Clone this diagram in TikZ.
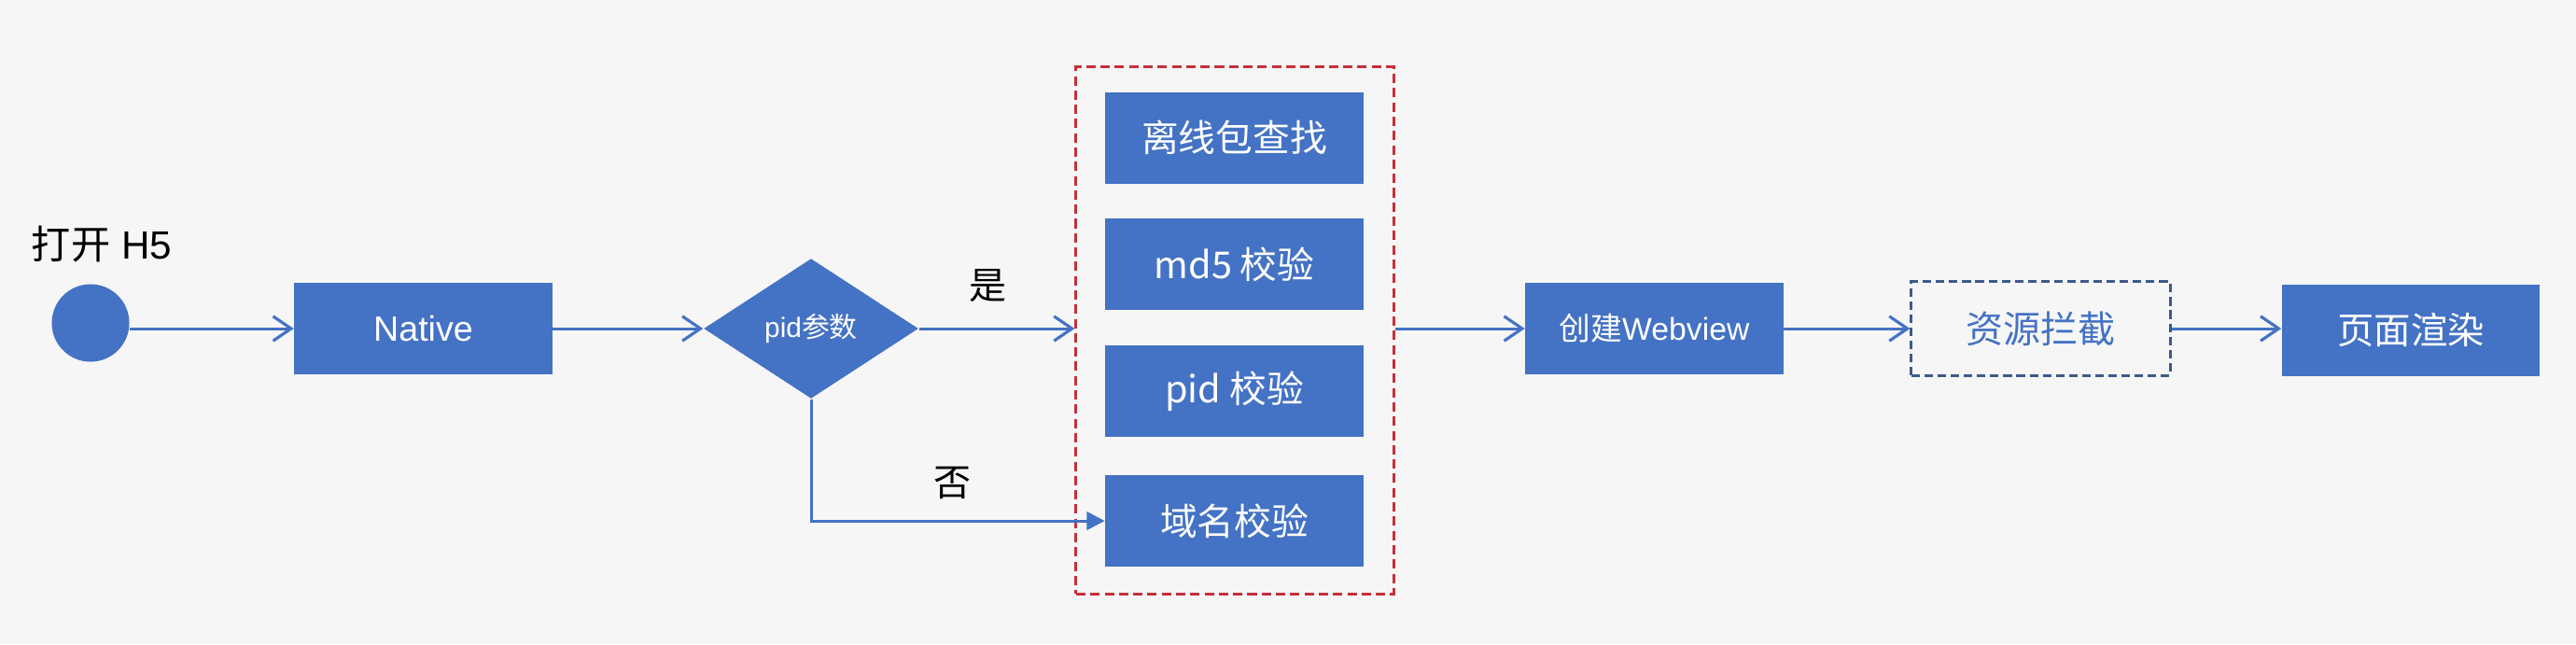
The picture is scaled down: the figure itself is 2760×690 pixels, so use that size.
\documentclass[tikz,border=0pt]{standalone}
\usepackage{fontspec}
\setmainfont{Liberation Sans}
\newfontfamily\cjk{Noto Sans CJK SC}
\usetikzlibrary{shapes.geometric,arrows.meta}
\definecolor{boxblue}{HTML}{4472C4}
\definecolor{bg}{HTML}{F6F6F6}
\definecolor{redline}{HTML}{C4303A}
\definecolor{darkblue}{HTML}{3D5A8C}
\tikzset{
  bx/.style={fill=boxblue, draw=none, text=white, minimum width=2.76cm, minimum height=0.98cm, inner sep=0pt},
  conn/.style={draw=boxblue, line width=0.85pt, -{Straight Barb[length=5.5pt,width=7.5pt,line width=0.9pt]}},
  lbl/.style={text=black, inner sep=0pt}
}
\begin{document}
\begin{tikzpicture}[x=0.01cm,y=-0.01cm]
\fill[bg] (0,0) rectangle (2760,690);
\useasboundingbox (0,0) rectangle (2760,690);

\node[circle, fill=boxblue, minimum size=0.83cm, inner sep=0pt] (start) at (97,346) {};
\node[lbl, font=\fontsize{12}{14}\selectfont] (open) at (109,262) {{\cjk 打开} H5};

\node[bx, font=\fontsize{10.7}{12}\selectfont] (native) at (453.5,352) {Native};

\node[diamond, fill=boxblue, text=white, minimum width=2.3cm, minimum height=1.5cm, inner sep=0pt, font=\fontsize{8.5}{10}\selectfont] (pid) at (869,352) {pid{\cjk 参数}};

\node[lbl, font=\cjk\fontsize{11.4}{13}\selectfont] (yes) at (1059,306) {是};
\node[lbl, font=\cjk\fontsize{11.4}{13}\selectfont] (no) at (1021,517) {否};

\node[draw=redline, dash pattern=on 2.85pt off 1.5pt, line width=0.85pt, minimum width=3.4cm, minimum height=5.64cm, inner sep=0pt] (grp) at (1323,354) {};

\node[bx, font=\cjk\fontsize{11.3}{13}\selectfont] (find) at (1322.5,147.6) {离线包查找};
\node[bx, font=\cjk\fontsize{11.3}{13}\selectfont] (md5) at (1322.5,283) {md5 校验};
\node[bx, font=\cjk\fontsize{11.3}{13}\selectfont] (pidc) at (1322.5,419) {pid 校验};
\node[bx, font=\cjk\fontsize{11.3}{13}\selectfont] (dom) at (1322.5,558) {域名校验};

\node[bx, font=\fontsize{9.6}{11}\selectfont] (web) at (1772.5,352) {{\cjk 创建}Webview};

\node[draw=darkblue, dash pattern=on 2.6pt off 1.4pt, line width=0.85pt, text=boxblue, minimum width=2.77cm, minimum height=1.0cm, inner sep=0pt, font=\cjk\fontsize{11.4}{13}\selectfont] (res) at (2186.5,352) {资源拦截};

\node[bx, font=\cjk\fontsize{11.2}{13}\selectfont] (page) at (2583,354) {页面渲染};

\draw[conn] (start.east |- native.west) -- (native.west);
\draw[conn] (native) -- (pid);
\draw[conn] (pid.east) -- (grp.west |- pid.east);
\draw[draw=boxblue, line width=0.85pt, -{Triangle[length=5.5pt,width=5.5pt]}] (pid.south) |- (dom.west);
\draw[conn] (grp.east |- web.west) -- (web.west);
\draw[conn] (web) -- (res);
\draw[conn] (res.east) -- (page.west |- res.east);
\end{tikzpicture}
\end{document}
